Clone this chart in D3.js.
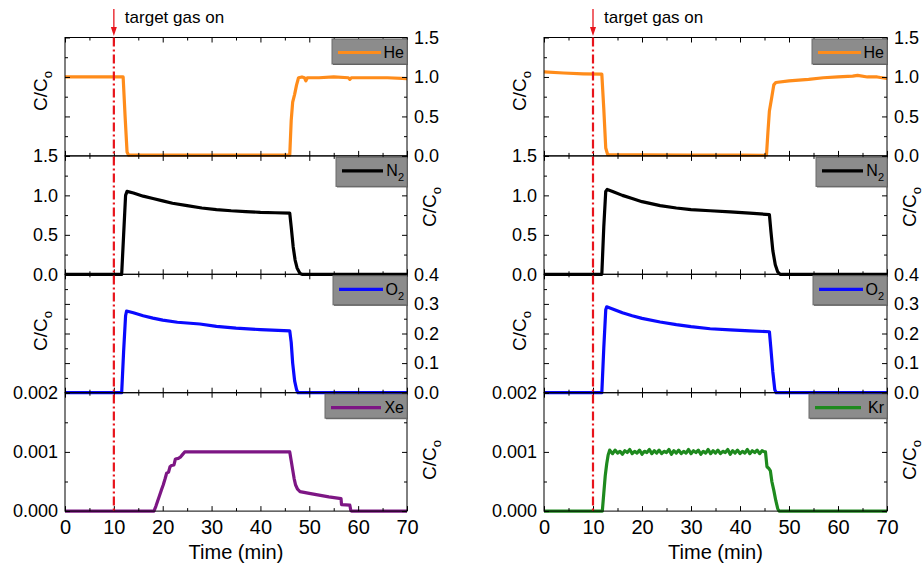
<!DOCTYPE html>
<html><head><meta charset="utf-8">
<script src="https://cdn.jsdelivr.net/npm/d3@7"></script>
<style>body{margin:0;background:#fff} text{font-family:Arial,"Liberation Sans",sans-serif;fill:#000}</style>
</head><body><svg id="c" width="924" height="567"></svg>
<script>
// ---------- data ----------
const timeTicks = [0,10,20,30,40,50,60,70];
const timeMinor = [5,15,25,35,45,55,65];
const heTicks = [0,0.5,1.0,1.5], heMinor = [0.25,0.75,1.25];
const o2Ticks = [0,0.1,0.2,0.3,0.4], o2Minor = [0.05,0.15,0.25,0.35];
const xeTicks = [0,0.001,0.002], xeMinor = [0.0005,0.0015];
const gasOnTime = 10;

const heLeft = [[0,1.0],[5,1.0],[11.9,1.0],[12.3,0.5],[12.7,0.05],[13,0.01],[20,0.01],[30,0.01],[40,0.01],[46.0,0.01],[46.3,0.45],[46.6,0.68],[47.0,0.78],[47.4,0.9],[47.8,0.99],[48.5,1.0],[49.0,0.99],[49.3,0.95],[49.6,0.99],[52,0.99],[55,1.0],[58,0.99],[58.3,0.97],[58.6,0.99],[62,0.99],[66,0.99],[70,0.98]];
const n2Left = [[0,0],[11.6,0],[12.0,0.5],[12.4,1.0],[12.7,1.05],[14,1.03],[16,0.99],[18,0.96],[20,0.93],[22,0.9],[25,0.87],[28,0.84],[31,0.82],[34,0.805],[37,0.795],[40,0.785],[43,0.78],[46,0.775],[46.3,0.6],[46.7,0.35],[47.1,0.18],[47.5,0.08],[48.1,0.01],[48.5,0],[70,0]];
const o2Left = [[0,0],[11.6,0],[12.0,0.14],[12.4,0.26],[12.6,0.276],[14,0.27],[16,0.26],[18,0.252],[20,0.245],[23,0.238],[27.6,0.232],[31,0.224],[35,0.218],[40,0.213],[46,0.209],[46.3,0.17],[46.6,0.1],[47.0,0.04],[47.4,0.01],[47.7,0],[70,0]];
const xeLeft = [[0,0],[18.2,0],[18.6,0.00008],[19.0,0.00018],[19.3,0.00025],[19.7,0.00035],[20.1,0.00044],[20.5,0.00055],[20.8,0.00064],[21.2,0.00066],[21.5,0.00075],[21.8,0.00077],[22.3,0.00078],[22.6,0.00088],[23.2,0.00089],[23.6,0.00091],[24.0,0.00095],[24.5,0.001],[46,0.001],[46.3,0.00085],[46.6,0.0007],[46.9,0.00055],[47.2,0.00044],[47.6,0.00037],[48.1,0.00033],[50,0.0003],[52,0.00027],[54,0.00024],[56.5,0.00021],[56.6,0.00011],[58.3,0.0001],[58.5,0.00001],[58.7,0],[70,0]];

const heRight = [[0,1.065],[4,1.05],[8,1.04],[11.8,1.035],[12.2,0.6],[12.6,0.1],[13,0.015],[20,0.012],[30,0.01],[40,0.01],[45.4,0.008],[45.7,0.3],[46.0,0.57],[46.5,0.75],[46.9,0.9],[47.3,0.93],[50,0.95],[54,0.97],[57,0.99],[60,1.0],[63,1.01],[64,1.02],[66,1.0],[68,1.0],[70,0.98]];
const n2Right = [[0,0],[11.8,0],[12.2,0.6],[12.6,1.05],[12.9,1.075],[14,1.05],[16,1.0],[18,0.96],[20,0.92],[23.7,0.87],[27,0.84],[30,0.82],[33.9,0.805],[38,0.79],[42,0.775],[46,0.756],[46.3,0.55],[46.7,0.3],[47.2,0.12],[47.7,0.03],[48.2,0],[70,0]];
const o2Right = [[0,0],[11.8,0],[12.2,0.15],[12.6,0.28],[12.8,0.29],[14,0.283],[16,0.27],[18,0.26],[20,0.251],[23.7,0.239],[27,0.23],[30,0.223],[33.9,0.216],[38,0.212],[42,0.209],[46,0.206],[46.3,0.15],[46.7,0.07],[47.1,0.01],[47.4,0],[70,0]];
const krRight = [[0,0],[11.9,0],[12.2,0.0003],[12.5,0.0006],[12.8,0.0008],[13.1,0.00095],[13.4,0.00103],
[13.5,0.00102],[14,0.00097],[14.5,0.00103],[15,0.00098],[15.5,0.00101],[16,0.00096],[16.5,0.00102],[17,0.00099],[17.5,0.00104],[18,0.00097],[18.5,0.00101],[19,0.00098],[19.5,0.00103],[20,0.00096],[20.5,0.00101],[21,0.00099],[21.5,0.00104],[22,0.00097],[22.5,0.00102],[23,0.00098],[23.5,0.00103],[24,0.00097],[24.5,0.00101],[25,0.00099],[25.5,0.00104],[26,0.00096],[26.5,0.00102],[27,0.00098],[27.5,0.00103],[28,0.00097],[28.5,0.00101],[29,0.00098],[29.5,0.00104],[30,0.00097],[30.5,0.00102],[31,0.00099],[31.5,0.00103],[32,0.00096],[32.5,0.00101],[33,0.00098],[33.5,0.00104],[34,0.00097],[34.5,0.00102],[35,0.00098],[35.5,0.00103],[36,0.00097],[36.5,0.00101],[37,0.00099],[37.5,0.00104],[38,0.00096],[38.5,0.00102],[39,0.00098],[39.5,0.00103],[40,0.00097],[40.5,0.00101],[41,0.00098],[41.5,0.00104],[42,0.00097],[42.5,0.00102],[43,0.00099],[43.5,0.00103],[44,0.00097],[44.5,0.00102],[45,0.00100],
[45.2,0.001],[45.5,0.00075],[45.9,0.00072],[46.2,0.00068],[46.5,0.0005],[46.9,0.00035],[47.3,0.00018],[47.7,0.00004],[48,0],[70,0]];

// ---------- layout ----------
const svg = d3.select("#c");
const panelTop = 37.5, panelH = 118.4;
const colors = {He:"#ff8c1a", N:"#000000", O:"#0a0aff", Xe:"#7d1684", Kr:"#1e8a1e"};

function panelsFor(he, n2, o2, heavy, heavyName, heavyColor, heavyW){
  return [
    {name:"He", sub:"", data:he, color:colors.He, domain:[0,1.5], major:heTicks, minor:heMinor, fmt:d3.format(".1f"), side:"right", lw:75, lh:25, titleY:91},
    {name:"N", sub:"2", data:n2, color:colors.N, domain:[0,1.5], major:heTicks, minor:heMinor, fmt:d3.format(".1f"), side:"left", lw:71, lh:29, titleY:207},
    {name:"O", sub:"2", data:o2, color:colors.O, domain:[0,0.4], major:o2Ticks, minor:o2Minor, fmt:d3.format(".1f"), side:"right", lw:74, lh:29, titleY:331},
    {name:heavyName, sub:"", data:heavy, color:heavyColor, domain:[0,0.002], major:xeTicks, minor:xeMinor, fmt:d3.format(".3f"), side:"left", lw:heavyW, lh:24, titleY:460}
  ];
}
const charts = [
  {x0:65, x1:407, panels:panelsFor(heLeft, n2Left, o2Left, xeLeft, "Xe", colors.Xe, 82)},
  {x0:544, x1:887, panels:panelsFor(heRight, n2Right, o2Right, krRight, "Kr", colors.Kr, 78)}
];

function coTitle(g, x, y){
  const t = g.append("text").attr("transform", `translate(${x},${y}) rotate(-90)`)
    .attr("text-anchor","middle").style("font-size","19px");
  t.append("tspan").text("C/C");
  t.append("tspan").text("o").attr("dy",5).style("font-size","13px");
}

charts.forEach(ch => {
  const g = svg.append("g");
  const x = d3.scaleLinear().domain([0,70]).range([ch.x0, ch.x1]);
  const nP = ch.panels.length;
  const bottom = panelTop + nP*panelH;

  ch.panels.forEach((p, i) => {
    const top = panelTop + i*panelH, bot = top + panelH;
    const y = d3.scaleLinear().domain(p.domain).range([bot, top]);
    const pg = g.append("g");

    // data line
    pg.append("path").datum(p.data)
      .attr("fill","none").attr("stroke",p.color).attr("stroke-width",3.2)
      .attr("stroke-linejoin","round")
      .attr("d", d3.line().x(d=>x(d[0])).y(d=>y(d[1])));

    // y axes
    const la = pg.append("g").attr("transform",`translate(${ch.x0},0)`)
      .call(d3.axisLeft(y).tickValues(p.major).tickSize(-5).tickSizeOuter(0).tickPadding(7)
        .tickFormat(p.side==="left" ? p.fmt : ""));
    const lm = pg.append("g").attr("transform",`translate(${ch.x0},0)`)
      .call(d3.axisLeft(y).tickValues(p.minor).tickSize(-3).tickSizeOuter(0).tickFormat(""));
    const ra = pg.append("g").attr("transform",`translate(${ch.x1},0)`)
      .call(d3.axisRight(y).tickValues(p.major).tickSize(-5).tickSizeOuter(0).tickPadding(7)
        .tickFormat(p.side==="right" ? p.fmt : ""));
    const rm = pg.append("g").attr("transform",`translate(${ch.x1},0)`)
      .call(d3.axisRight(y).tickValues(p.minor).tickSize(-3).tickSizeOuter(0).tickFormat(""));
    // x axes (top and bottom of each panel)
    const ta = pg.append("g").attr("transform",`translate(0,${top})`)
      .call(d3.axisTop(x).tickValues(timeTicks).tickSize(-5).tickSizeOuter(0).tickFormat(""));
    const tm = pg.append("g").attr("transform",`translate(0,${top})`)
      .call(d3.axisTop(x).tickValues(timeMinor).tickSize(-3).tickSizeOuter(0).tickFormat(""));
    const isLast = i === nP-1;
    const ba = pg.append("g").attr("transform",`translate(0,${bot})`)
      .call(d3.axisBottom(x).tickValues(timeTicks).tickSize(-5).tickSizeOuter(0).tickPadding(9)
        .tickFormat(isLast ? d3.format("d") : ""));
    const bm = pg.append("g").attr("transform",`translate(0,${bot})`)
      .call(d3.axisBottom(x).tickValues(timeMinor).tickSize(-3).tickSizeOuter(0).tickFormat(""));
    [la,lm,ra,rm,ta,tm,ba,bm].forEach(a => {
      a.select(".domain").remove();
      a.selectAll("line").attr("stroke","#000");
      a.selectAll("text").style("font-family","Arial, 'Liberation Sans', sans-serif").style("font-size","18px").attr("fill","#000");
    });
    ba.selectAll("text").style("font-size","20px");

    // frame
    pg.append("rect").attr("x",ch.x0).attr("y",top).attr("width",ch.x1-ch.x0).attr("height",panelH)
      .attr("fill","none").attr("stroke","#000").attr("stroke-width",1);

    // legend
    const lg = pg.append("g").attr("transform",`translate(${ch.x1-p.lw},${top+1.5})`);
    lg.append("rect").attr("x",1).attr("y",1).attr("width",p.lw).attr("height",p.lh).attr("fill","#5a5a5a");
    lg.append("rect").attr("width",p.lw).attr("height",p.lh).attr("fill","#8c8c8c").attr("stroke","#6a6a6a").attr("stroke-width",1);
    lg.append("line").attr("x1",6).attr("x2",p.lw-(p.name.length>1?26:24)).attr("y1",13.5).attr("y2",13.5)
      .attr("stroke",p.color).attr("stroke-width",3.2);
    const lt = lg.append("text").attr("x",p.lw-3).attr("y",19).attr("text-anchor","end").style("font-size","16px");
    lt.append("tspan").text(p.name);
    if (p.sub) lt.append("tspan").text(p.sub).attr("dy",5).style("font-size","11px");

    // C/Co title on the non-labelled side
    if (p.side === "right") coTitle(pg, ch.x0-18, p.titleY);
    else coTitle(pg, ch.x1+29, p.titleY);
  });

  // gas-on marker
  const xg = x(gasOnTime);
  g.append("line").attr("x1",xg).attr("x2",xg).attr("y1",panelTop).attr("y2",bottom)
    .attr("stroke","#e8141c").attr("stroke-width",2.2).attr("stroke-dasharray","9,3,2,3");
  g.append("line").attr("x1",xg).attr("x2",xg).attr("y1",9).attr("y2",30)
    .attr("stroke","#e8141c").attr("stroke-width",1.3);
  g.append("path").attr("d",`M${xg-3},27 L${xg+3},27 L${xg},36 Z`).attr("fill","#e8141c");
  g.append("text").attr("x",xg+11).attr("y",23).style("font-size","17px").text("target gas on");

  // x title
  g.append("text").attr("x",(ch.x0+ch.x1)/2).attr("y",559).attr("text-anchor","middle")
    .style("font-size","20px").text("Time (min)");
});
</script></body></html>
